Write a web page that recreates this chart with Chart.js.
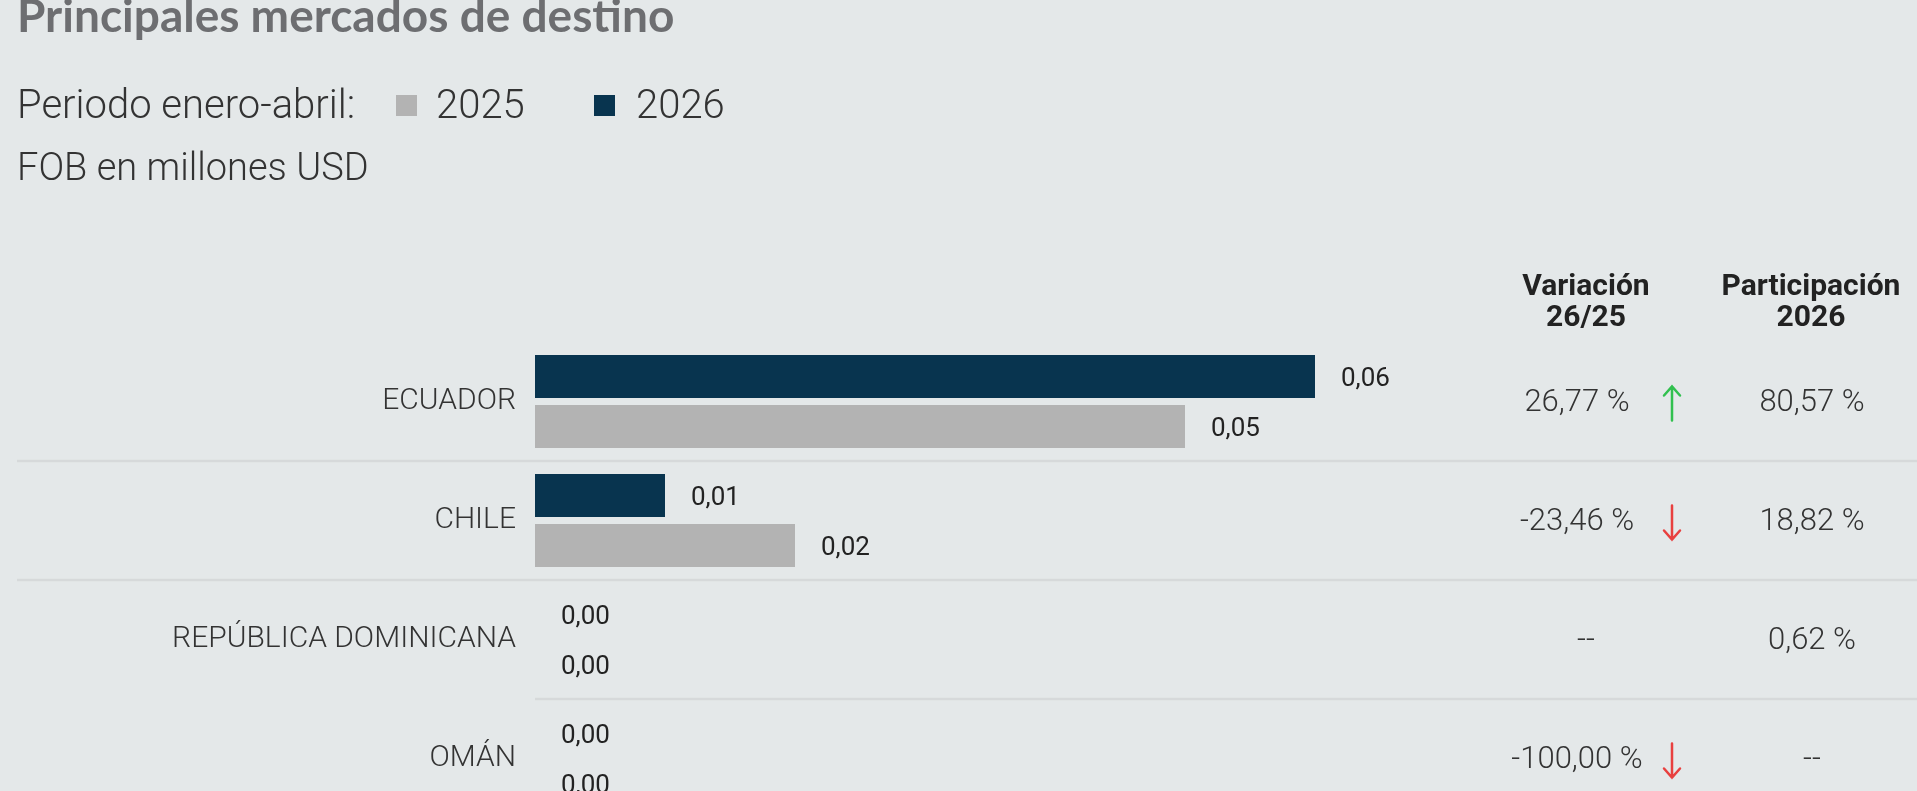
<!DOCTYPE html>
<html>
<head>
<meta charset="utf-8">
<script src="https://cdn.jsdelivr.net/npm/chart.js@4.4.1/dist/chart.umd.min.js"></script>
<style>
  html, body { margin: 0; padding: 0; background: #e4e8e9; overflow: hidden; }
  #mercados { position: absolute; left: 0; top: 0; }
</style>
</head>
<body>
<canvas id="mercados" width="1917" height="830"></canvas>
<script>
// DATA
const categories = ['ECUADOR', 'CHILE', 'REPÚBLICA DOMINICANA', 'OMÁN'];
const values2026 = [0.06, 0.01, 0.00, 0.00];
const values2025 = [0.05, 0.02, 0.00, 0.00];
const variationPct = [26.77, -23.46, null, -100.00];
const sharePct2026 = [80.57, 18.82, 0.62, null];

const DARK = '#08344f';
const GRAY = '#b3b3b3';
const TEXT = '#333333';

function fmt(v, dec) {
    return v.toFixed(dec).replace('.', ',');
}

function drawArrow(ctx, x, cy, up, color) {
    const top = cy - 17, bottom = cy + 17;
    ctx.save();
    ctx.strokeStyle = color;
    ctx.lineWidth = 2.5;
    ctx.lineCap = 'round';
    ctx.beginPath();
    ctx.moveTo(x, top);
    ctx.lineTo(x, bottom);
    const tip = up ? top : bottom;
    const d = up ? 9 : -9;
    ctx.moveTo(x - 8, tip + d);
    ctx.lineTo(x, tip);
    ctx.lineTo(x + 8, tip + d);
    ctx.stroke();
    ctx.restore();
}

// texts, legend, separators and table columns
const decorPlugin = {
    id: 'decor',
    beforeDatasetsDraw(chart) {
        const ctx = chart.ctx;
        const y = chart.scales.y;
        ctx.save();
        // row separators
        ctx.strokeStyle = '#d6d9da';
        ctx.lineWidth = 2.5;
        for (let i = 0; i < categories.length - 1; i++) {
            const sy = (y.getPixelForValue(i) + y.getPixelForValue(i + 1)) / 2;
            ctx.beginPath();
            ctx.moveTo(i < 2 ? 17 : chart.chartArea.left, sy);
            ctx.lineTo(1917, sy);
            ctx.stroke();
        }
        ctx.restore();
    },
    afterDatasetsDraw(chart) {
        const ctx = chart.ctx;
        const y = chart.scales.y;
        ctx.save();
        ctx.textBaseline = 'alphabetic';

        // title
        ctx.fillStyle = '#6d6e71';
        ctx.font = 'bold 46px Lato';
        ctx.textAlign = 'left';
        ctx.fillText('Principales mercados de destino', 17, 32);

        // legend line
        ctx.fillStyle = TEXT;
        ctx.font = '300 40px Roboto';
        ctx.fillText('Periodo enero-abril:', 17, 118);
        ctx.fillStyle = GRAY;
        ctx.fillRect(396, 95, 21, 21);
        ctx.fillStyle = TEXT;
        ctx.fillText('2025', 436, 118);
        ctx.fillStyle = DARK;
        ctx.fillRect(594, 95, 21, 21);
        ctx.fillStyle = TEXT;
        ctx.fillText('2026', 636, 118);
        ctx.font = '300 38px Roboto';
        ctx.fillText('FOB en millones USD', 17, 180);

        // column headers
        ctx.fillStyle = '#222222';
        ctx.font = 'bold 30px Roboto';
        ctx.textAlign = 'center';
        ctx.fillText('Variación', 1586, 295);
        ctx.fillText('26/25', 1586, 326);
        ctx.fillText('Participación', 1811, 295);
        ctx.fillText('2026', 1811, 326);

        // data labels next to bars
        ctx.font = '400 26px Roboto';
        ctx.fillStyle = '#222222';
        ctx.textAlign = 'left';
        ctx.textBaseline = 'middle';
        chart.data.datasets.forEach((ds, di) => {
            const meta = chart.getDatasetMeta(di);
            meta.data.forEach((bar, i) => {
                ctx.fillText(fmt(ds.data[i], 2), bar.x + 26, bar.y + 3);
            });
        });

        // table values
        ctx.font = '300 31px Roboto';
        ctx.fillStyle = TEXT;
        ctx.textAlign = 'center';
        categories.forEach((c, i) => {
            const cy = y.getPixelForValue(i) + 2;
            const v = variationPct[i];
            if (v === null) {
                ctx.fillText('--', 1586, cy);
            } else {
                ctx.fillText(fmt(v, 2) + ' %', 1577, cy);
                drawArrow(ctx, 1672, cy, v > 0, v > 0 ? '#31c04f' : '#e8403f');
            }
            const s = sharePct2026[i];
            ctx.fillText(s === null ? '--' : fmt(s, 2) + ' %', 1812, cy);
        });
        ctx.restore();
    }
};

var ctx = document.getElementById('mercados');
var myChart = new Chart(ctx, {
    type: 'bar',
    data: {
        labels: categories,
        datasets: [{
            label: '2026',
            data: values2026,
            backgroundColor: DARK,
            barPercentage: 0.86,
            categoryPercentage: 0.84
        }, {
            label: '2025',
            data: values2025,
            backgroundColor: GRAY,
            barPercentage: 0.86,
            categoryPercentage: 0.84
        }]
    },
    options: {
        indexAxis: 'y',
        responsive: false,
        devicePixelRatio: 1,
        animation: false,
        layout: {
            padding: { left: 0, right: 472, top: 342, bottom: 12 }
        },
        plugins: {
            legend: { display: false },
            tooltip: { enabled: false }
        },
        scales: {
            x: {
                display: false,
                min: 0,
                max: 0.07
            },
            y: {
                grid: { display: false, drawTicks: false },
                border: { display: false },
                ticks: {
                    padding: 19,
                    color: TEXT,
                    font: { family: 'Roboto', weight: '300', size: 30 }
                },
                afterFit(scale) {
                    scale.width = 535;
                    scale.paddingTop = 0;
                    scale.paddingBottom = 0;
                }
            }
        }
    },
    plugins: [decorPlugin]
});
</script>
</body>
</html>
